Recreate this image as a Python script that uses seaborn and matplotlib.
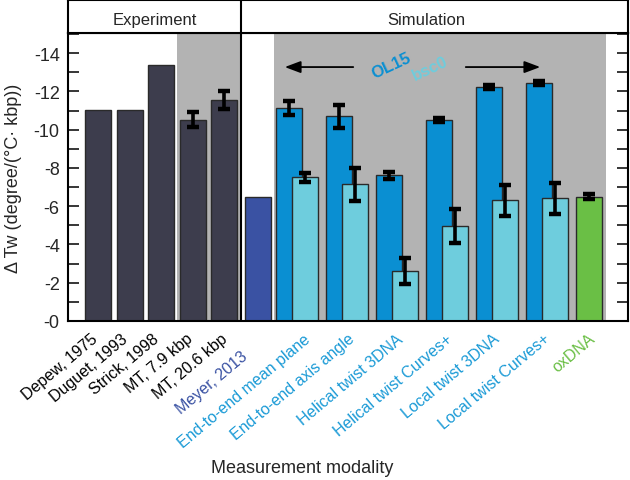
import numpy as np
import pandas as pd
import matplotlib
matplotlib.use("Agg")
import matplotlib.pyplot as plt
from matplotlib.transforms import ScaledTranslation
from matplotlib.ticker import MultipleLocator, FuncFormatter
import seaborn as sns

# --- data ---
exp_labels = ["Depew, 1975", "Duguet, 1993", "Strick, 1998", "MT, 7.9 kbp", "MT, 20.6 kbp"]
exp_values = [11.04, 11.04, 13.39, 10.52, 11.55]
exp_errors = [0, 0, 0, 0.40, 0.45]

meyer_label = "Meyer, 2013"
meyer_value = 6.48

sim_labels = ["End-to-end mean plane", "End-to-end axis angle", "Helical twist 3DNA",
              "Helical twist Curves+", "Local twist 3DNA", "Local twist Curves+"]
ol15_values = [11.11, 10.69, 7.61, 10.50, 12.21, 12.42]
ol15_errors = [0.37, 0.58, 0.20, 0.10, 0.10, 0.10]
bsc0_values = [7.51, 7.14, 2.60, 4.98, 6.31, 6.41]
bsc0_errors = [0.23, 0.87, 0.69, 0.89, 0.80, 0.80]

oxdna_label = "oxDNA"
oxdna_value = 6.50
oxdna_error = 0.12

# --- colours ---
c_exp = "#3d3d4d"
c_meyer = "#3a52a3"
c_ol15 = "#0a8fd2"
c_bsc0 = "#6ecddd"
c_ox = "#6abf45"
c_gray = "#b3b3b3"
c_simtxt = "#1a9ad6"

sns.set_theme(style="white")
plt.rcParams["font.family"] = ["Liberation Sans", "DejaVu Sans"]

# --- layout (x in units of 10 px) ---
bar_w = 2.6
exp_pos = 3.0 + 3.15 * np.arange(len(exp_values))
meyer_pos = 19.0
ol_pos = 22.1 + 5.0 * np.arange(len(ol15_values))
bsc_pos = ol_pos + 1.6
ox_pos = 52.05
divider = 17.3

bars = pd.DataFrame({
    "pos": np.concatenate([exp_pos, [meyer_pos], ol_pos, bsc_pos, [ox_pos]]),
    "value": exp_values + [meyer_value] + ol15_values + bsc0_values + [oxdna_value],
    "err": exp_errors + [0] + ol15_errors + bsc0_errors + [oxdna_error],
    "color": [c_exp] * 5 + [c_meyer] + [c_ol15] * 6 + [c_bsc0] * 6 + [c_ox],
})

fig = plt.figure(figsize=(6.3, 4.81), dpi=100)
ax = fig.add_axes([68 / 630, 1 - 322 / 481, 560 / 630, 288 / 481])
hax = fig.add_axes([68 / 630, 1 - 34 / 481, 560 / 630, 33 / 481])

# shaded regions
ax.axvspan(10.9, divider, color=c_gray, lw=0, zorder=0)
ax.axvspan(20.6, 53.8, color=c_gray, lw=0, zorder=0)

for _, row in bars.iterrows():
    sns.barplot(x=[row["pos"]], y=[row["value"]], native_scale=True, orient="x",
                width=bar_w, color=row["color"], saturation=1,
                edgecolor="#2a2a2a", linewidth=1.0, ax=ax, zorder=2)

eb = bars[bars["err"] > 0]
ax.errorbar(eb["pos"], eb["value"], yerr=eb["err"], fmt="none", ecolor="black",
            elinewidth=2.6, capsize=4.3, capthick=3.2, zorder=4)

ax.axvline(divider, color="black", lw=1.5, zorder=5)

# arrows and OL15 / bsc0 text
arrow_y = 13.27
ax.annotate("", xy=(21.4, arrow_y), xytext=(28.8, arrow_y),
            arrowprops=dict(arrowstyle="-|>,head_length=0.8,head_width=0.3", color="black", lw=1.3))
ax.annotate("", xy=(47.5, arrow_y), xytext=(39.5, arrow_y),
            arrowprops=dict(arrowstyle="-|>,head_length=0.8,head_width=0.3", color="black", lw=1.3))
ax.text(32.3, 13.35, "OL15", color=c_ol15, fontsize=12, fontweight="bold",
        rotation=25, ha="center", va="center", zorder=6)
ax.text(36.2, 13.2, "bsc0", color=c_bsc0, fontsize=12, fontweight="bold",
        rotation=25, ha="center", va="center", zorder=6)

ax.set_xlim(0, 56)
ax.set_ylim(0, 15.05)
ax.yaxis.set_major_locator(MultipleLocator(2))
ax.yaxis.set_minor_locator(MultipleLocator(1))
ax.yaxis.set_major_formatter(FuncFormatter(lambda v, p: f"-{int(v)}"))
ax.tick_params(axis="y", which="both", direction="in", length=8, width=1.3,
               left=True, right=True, labelsize=13, pad=6)
ax.tick_params(axis="y", which="minor", length=8)
for s in ax.spines.values():
    s.set_linewidth(1.5)
    s.set_color("black")
ax.set_ylabel("\u0394 Tw (degree/(\u00b0C\u00b7 kbp))", fontsize=13)
ax.yaxis.set_label_coords(-0.082, 0.5)
ax.set_xlabel("")

# x tick labels
all_labels = exp_labels + [meyer_label] + sim_labels + [oxdna_label]
label_pos = [2.3, 5.3, 8.4, 11.8, 15.3, 17.3, 23.5, 28.0, 32.8, 37.8, 42.5, 47.5, 52.0]
label_col = ["black"] * 5 + [c_meyer] + [c_simtxt] * 6 + [c_ox]
ax.set_xticks(label_pos)
ax.set_xticklabels(all_labels, rotation=40, ha="right", rotation_mode="anchor", fontsize=11.5)
ax.tick_params(axis="x", length=0, pad=7)
for i, (lab, col) in enumerate(zip(ax.get_xticklabels(), label_col)):
    lab.set_color(col)
    if i == 5:
        lab.set_transform(lab.get_transform() + ScaledTranslation(0, -0.17, fig.dpi_scale_trans))

fig.text(302 / 630, 1 - 469 / 481, "Measurement modality", ha="center", va="center", fontsize=13)

# header boxes
hax.set_xlim(0, 56)
hax.set_ylim(0, 1)
hax.set_xticks([])
hax.set_yticks([])
for s in hax.spines.values():
    s.set_linewidth(1.5)
    s.set_color("black")
hax.axvline(divider, color="black", lw=1.5)
hax.text(divider / 2, 0.42, "Experiment", ha="center", va="center", fontsize=12)
hax.text(35.8, 0.42, "Simulation", ha="center", va="center", fontsize=12)

fig.savefig("out.png", dpi=100)
